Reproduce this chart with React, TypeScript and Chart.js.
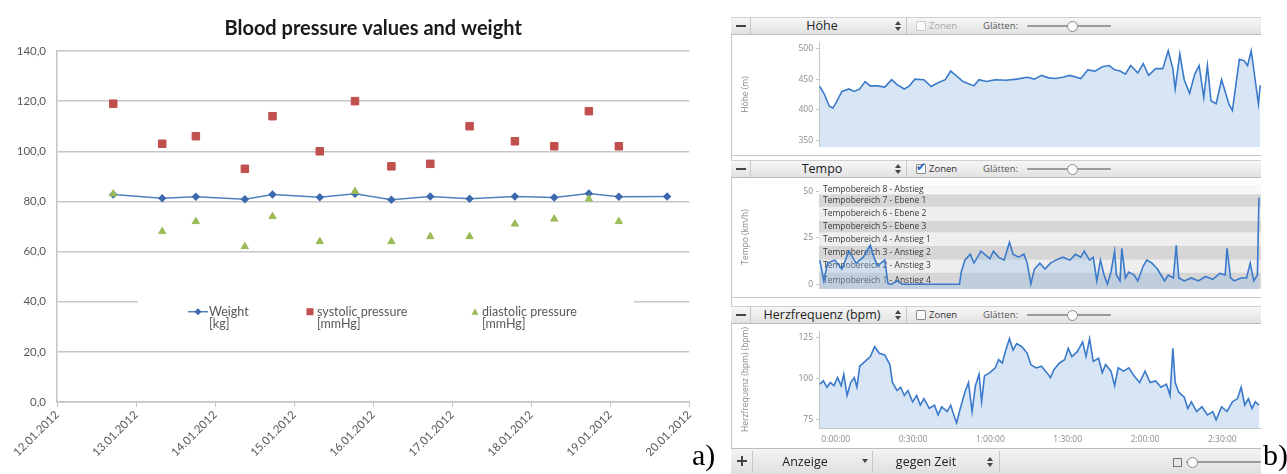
import React, { useEffect, useRef } from 'react';
import { Chart, registerables } from 'chart.js';

Chart.register(...registerables);

// ---------------- Chart a) data ----------------
const xTickLabels = ['12.01.2012', '13.01.2012', '14.01.2012', '15.01.2012', '16.01.2012', '17.01.2012', '18.01.2012', '19.01.2012', '20.01.2012'];
const leftYTicks = [0, 20, 40, 60, 80, 100, 120, 140];
const measureTimes = [
  '12.01.2012 17:05', '13.01.2012 07:57', '13.01.2012 18:10', '14.01.2012 09:03', '14.01.2012 17:27',
  '15.01.2012 07:48', '15.01.2012 18:30', '16.01.2012 05:33', '16.01.2012 17:22', '17.01.2012 05:18',
  '17.01.2012 19:03', '18.01.2012 07:00', '18.01.2012 17:31', '19.01.2012 02:37', '19.01.2012 17:17',
];
const weightKg = [82.8, 81.3, 81.9, 80.9, 82.8, 81.7, 83.1, 80.7, 82.0, 81.1, 82.0, 81.6, 83.2, 81.9, 82.0];
const systolicMmHg = [119, 103, 106, 93, 114, 100, 120, 94, 95, 110, 104, 102, 116, 102, null];
const diastolicMmHg = [83, 68, 72, 62, 74, 64, 84, 64, 66, 66, 71, 73, 81, 72, null];
const legendLines = [
  ['Weight', '[kg]'],
  ['systolic pressure', '[mmHg]'],
  ['diastolic pressure', '[mmHg]'],
];

// ---------------- Chart b) data (time in minutes) ----------------
const timeTicks = [0, 30, 60, 90, 120, 150];
const timeTickLabels = ['0:00:00', '0:30:00', '1:00:00', '1:30:00', '2:00:00', '2:30:00'];

const hoeheTime = [-6.2, -4.6, -2.5, -1.1, 0.3, 2.4, 5.1, 7.2, 9.3, 11.4, 13.4, 16.2, 19.0, 21.7, 23.8, 26.6, 28.6, 30.7, 34.2, 37.0, 39.7, 42.5, 44.6, 46.6, 49.4, 53.6, 55.6, 58.4, 61.9, 66.0, 70.2, 74.3, 77.1, 79.8, 82.6, 85.4, 88.1, 90.9, 95.1, 97.8, 100.6, 103.4, 106.1, 108.2, 110.3, 112.4, 114.4, 117.2, 119.3, 121.4, 124.1, 126.9, 129.0, 130.8, 131.7, 133.5, 135.2, 137.3, 139.3, 141.0, 142.8, 144.2, 145.6, 147.6, 149.7, 151.1, 152.5, 153.9, 155.3, 156.6, 158.4, 159.8, 161.2, 162.6, 164.0, 164.7];
const hoeheValue = [438, 427, 406, 403, 413, 430, 434, 430, 434, 446, 439, 439, 437, 449, 441, 434, 439, 450, 449, 438, 444, 449, 463, 456, 446, 439, 449, 446, 449, 448, 450, 453, 450, 456, 452, 451, 453, 456, 451, 465, 463, 470, 472, 465, 463, 458, 472, 460, 475, 456, 467, 467, 496, 467, 434, 491, 449, 427, 458, 472, 420, 472, 415, 410, 449, 430, 410, 399, 442, 482, 480, 472, 496, 453, 410, 440];
const hoeheTicks = [350, 400, 450, 500];

const tempoTime = [-6.2, -4.6, -3.2, -0.4, 2.4, 5.1, 7.9, 10.7, 13.4, 14.8, 16.2, 19.0, 20.3, 21.7, 23.8, 25.9, 48.0, 48.7, 50.1, 52.2, 53.6, 55.0, 56.3, 57.7, 59.8, 61.2, 63.2, 65.3, 67.4, 68.8, 70.9, 73.0, 74.3, 75.7, 77.1, 79.2, 81.2, 83.3, 85.4, 88.1, 90.9, 93.0, 95.1, 96.4, 98.5, 99.9, 101.3, 102.7, 104.1, 105.4, 106.8, 108.2, 108.9, 110.3, 111.0, 112.4, 113.7, 115.8, 117.2, 119.3, 120.7, 122.7, 124.8, 126.2, 127.6, 129.0, 131.0, 132.1, 133.1, 135.2, 138.0, 140.7, 143.5, 146.3, 149.0, 151.1, 151.8, 153.2, 154.6, 157.3, 159.4, 160.8, 162.2, 163.6, 164.2];
const tempoValue = [13.0, 1.8, 11.4, 13.0, 8.2, 17.8, 11.4, 14.6, 21.0, 14.6, 9.8, 13.0, 0.2, 0, 1.8, 0, 0, 6.6, 13.0, 16.2, 11.4, 14.6, 17.8, 16.2, 13.8, 17.8, 14.6, 13.0, 22.6, 16.2, 14.6, 16.2, 11.4, 0.2, 8.2, 11.4, 8.2, 11.4, 13.0, 14.6, 13.0, 16.2, 14.6, 17.8, 13.0, 14.6, 1.8, 13.0, 5.0, 0, 6.6, 17.8, 5.0, 1.8, 19.4, 3.4, 6.6, 5.0, 1.8, 9.8, 13.0, 11.4, 8.2, 5.0, 1.8, 5.0, 3.4, 21.0, 3.4, 1.8, 3.4, 1.8, 4.2, 2.6, 5.8, 5.0, 19.4, 3.4, 1.8, 3.4, 3.4, 11.4, 1.8, 5.0, 46.6];
const tempoTicks = [0, 25, 50];
const tempoZoneBounds = [-2.5, 6.4, 13.2, 20.6, 27.9, 34.3, 41.7, 48.5, 53.4];
const tempoZoneLabels = [
  'Tempobereich 1 - Anstieg 4', 'Tempobereich 2 - Anstieg 3', 'Tempobereich 3 - Anstieg 2', 'Tempobereich 4 - Anstieg 1',
  'Tempobereich 5 - Ebene 3', 'Tempobereich 6 - Ebene 2', 'Tempobereich 7 - Ebene 1', 'Tempobereich 8 - Abstieg',
];

const hrTime = [-6.2, -4.8, -3.4, -2.1, -0.7, 0.7, 2.1, 3.1, 4.4, 5.8, 7.2, 8.2, 9.3, 11.4, 13.4, 15.1, 16.9, 19.0, 21.0, 22.0, 23.8, 25.2, 26.6, 28.0, 29.8, 31.4, 32.8, 34.2, 36.3, 38.3, 39.7, 41.1, 43.2, 44.6, 46.0, 46.9, 48.0, 50.1, 51.5, 52.9, 54.2, 55.6, 56.6, 57.7, 59.8, 61.9, 63.2, 64.6, 66.0, 67.4, 68.8, 70.2, 72.2, 74.3, 75.7, 77.8, 79.8, 81.9, 83.3, 84.7, 86.8, 88.8, 90.2, 91.6, 93.7, 95.8, 97.1, 98.5, 99.9, 102.0, 103.4, 104.7, 106.8, 108.2, 109.6, 111.7, 113.7, 115.8, 117.9, 120.0, 122.0, 124.1, 126.2, 128.3, 129.7, 130.8, 131.7, 133.1, 135.2, 136.6, 138.0, 140.0, 142.1, 144.2, 146.3, 147.6, 149.7, 151.8, 153.9, 155.9, 157.3, 158.7, 160.1, 161.5, 162.8, 164.2];
const hrValue = [96.7, 98.7, 94.8, 97.7, 95.8, 100.7, 95.8, 102.7, 89.8, 97.7, 100.7, 94.8, 107.6, 110.6, 113.5, 119.5, 115.5, 114.5, 108.6, 97.7, 92.8, 94.8, 89.8, 92.8, 85.9, 89.8, 83.9, 87.9, 81.9, 83.9, 78.0, 82.9, 80.0, 83.9, 77.0, 73.0, 80.0, 91.8, 97.7, 80.0, 95.8, 102.7, 85.9, 101.7, 103.7, 106.6, 111.6, 109.6, 117.5, 124.4, 117.5, 121.4, 119.5, 115.5, 108.6, 106.6, 107.6, 103.7, 100.7, 105.6, 109.6, 111.6, 118.5, 113.5, 116.5, 122.4, 113.5, 124.4, 110.6, 112.5, 103.7, 108.6, 104.6, 95.8, 106.6, 104.6, 106.6, 101.7, 97.7, 104.6, 97.7, 98.7, 94.8, 96.7, 89.8, 118.5, 97.7, 91.8, 88.8, 81.9, 85.9, 80.0, 82.9, 78.0, 80.0, 75.0, 82.9, 80.0, 85.9, 87.9, 94.8, 83.9, 87.9, 81.9, 85.9, 83.9];
const hrTicks = [75, 100, 125];

// ---------------- helpers ----------------
function parseStamp(s: string): number {
  const [d, t] = s.split(' ');
  const [dd, mm, yy] = d.split('.').map(Number);
  const [h, mi] = (t || '0:00').split(':').map(Number);
  return Date.UTC(yy, mm - 1, dd, h, mi);
}
const baseMs = parseStamp(xTickLabels[0]);
const toDay = (s: string) => (parseStamp(s) - baseMs) / 86400000;

const COL_W = '#4F81BD';
const COL_W_MARK = '#3D69AE';
const COL_S = '#C0504D';
const COL_D = '#9BBB59';
const UI_FONT = "'Open Sans', 'DejaVu Sans', sans-serif";

function drawMarker(ctx: CanvasRenderingContext2D, kind: string, x: number, y: number, color: string) {
  ctx.save();
  ctx.fillStyle = color;
  ctx.strokeStyle = color;
  ctx.beginPath();
  if (kind === 'line') {
    ctx.lineWidth = 1.5;
    ctx.moveTo(x - 10, y);
    ctx.lineTo(x + 10, y);
    ctx.stroke();
    ctx.beginPath();
    ctx.fillStyle = COL_W_MARK;
    ctx.moveTo(x, y - 3.5);
    ctx.lineTo(x + 3.5, y);
    ctx.lineTo(x, y + 3.5);
    ctx.lineTo(x - 3.5, y);
    ctx.closePath();
    ctx.fill();
  } else if (kind === 'rect') {
    ctx.fillRect(x - 3.5, y - 3.5, 7, 7);
  } else {
    ctx.moveTo(x, y - 3.5);
    ctx.lineTo(x + 3.5, y + 3);
    ctx.lineTo(x - 3.5, y + 3);
    ctx.closePath();
    ctx.fill();
  }
  ctx.restore();
}

const innerLegend = {
  id: 'innerLegend',
  afterDatasetsDraw(chart: any) {
    const { ctx, chartArea, scales } = chart;
    const y40 = scales.y.getPixelForValue(40);
    const l = chartArea.left;
    ctx.save();
    ctx.fillStyle = '#ffffff';
    ctx.fillRect(l + 81, y40 - 8, 496, 40);
    const kinds = ['line', 'rect', 'tri'];
    const colors = [COL_W, COL_S, COL_D];
    const markX = [l + 141, l + 253, l + 418];
    const textX = [l + 152, l + 260, l + 425];
    ctx.font = "12.5px Lato, 'Open Sans', sans-serif";
    ctx.textBaseline = 'middle';
    ctx.textAlign = 'left';
    for (let i = 0; i < 3; i++) {
      drawMarker(ctx, kinds[i], markX[i], y40 + 10, colors[i]);
      ctx.fillStyle = '#595959';
      ctx.fillText(legendLines[i][0], textX[i], y40 + 10);
      ctx.fillText(legendLines[i][1], textX[i], y40 + 22);
    }
    ctx.restore();
  },
};

function LeftChart() {
  const ref = useRef<HTMLCanvasElement | null>(null);
  useEffect(() => {
    if (!ref.current) return;
    const xs = measureTimes.map(toDay);
    const tickFont = { family: "Lato, 'Open Sans', sans-serif", size: 11.5 };
    const chart = new Chart(ref.current, {
      type: 'scatter',
      data: {
        datasets: [
          {
            label: 'Weight [kg]',
            data: xs.map((x, i) => ({ x, y: weightKg[i] })),
            showLine: true,
            borderColor: COL_W,
            borderWidth: 1.5,
            pointStyle: 'rectRot',
            pointRadius: 3.2,
            pointBackgroundColor: COL_W_MARK,
            pointBorderColor: COL_W_MARK,
            order: 3,
          },
          {
            label: 'systolic pressure [mmHg]',
            data: xs.map((x, i) => ({ x, y: systolicMmHg[i] })),
            showLine: false,
            pointStyle: 'rect',
            pointRadius: 5.3,
            pointBackgroundColor: COL_S,
            pointBorderColor: COL_S,
            order: 2,
          },
          {
            label: 'diastolic pressure [mmHg]',
            data: xs.map((x, i) => ({ x, y: diastolicMmHg[i] })),
            showLine: false,
            pointStyle: 'triangle',
            pointRadius: 4.2,
            pointBackgroundColor: COL_D,
            pointBorderColor: COL_D,
            order: 1,
          },
        ] as any,
      },
      options: {
        animation: false,
        responsive: false,
        layout: { padding: { left: 7, right: 10, top: 0, bottom: 0 } },
        plugins: {
          legend: { display: false },
          tooltip: { enabled: false },
          title: {
            display: true,
            text: 'Blood pressure values and weight',
            fullSize: false,
            color: '#1a1a1a',
            font: { family: "Lato, 'Open Sans', sans-serif", size: 20, weight: 'bold' },
            padding: { top: 17, bottom: 10 },
          },
        },
        scales: {
          x: {
            type: 'linear',
            min: 0,
            max: xTickLabels.length - 1,
            afterBuildTicks: (s: any) => { s.ticks = xTickLabels.map((_, i) => ({ value: i })); },
            afterFit: (s: any) => { s.height = 72; },
            ticks: {
              autoSkip: false,
              minRotation: 45,
              maxRotation: 45,
              padding: 1,
              color: '#595959',
              font: tickFont,
              callback: (_v: any, i: number) => xTickLabels[i],
            },
            grid: { drawOnChartArea: false, drawTicks: true, tickLength: 5, color: '#c4c4c4' },
            border: { color: '#c4c4c4', width: 1.5 },
          },
          y: {
            min: 0,
            max: 140,
            afterBuildTicks: (s: any) => { s.ticks = leftYTicks.map((v) => ({ value: v })); },
            afterFit: (s: any) => { s.width = 50; },
            ticks: {
              padding: 11,
              color: '#595959',
              font: tickFont,
              callback: (v: any) => Number(v).toFixed(1).replace('.', ','),
            },
            grid: { color: '#c6c6c6', lineWidth: 1.5, drawTicks: false },
            border: { color: '#c4c4c4', width: 1.5 },
          },
        },
      } as any,
      plugins: [innerLegend],
    });
    return () => chart.destroy();
  }, []);
  return (
    <canvas ref={ref} width={700} height={474} style={{ position: 'absolute', left: 0, top: 0, width: 700, height: 474 }} />
  );
}

const zonePlugin = {
  id: 'tempoZones',
  beforeDatasetsDraw(chart: any) {
    const { ctx, chartArea, scales } = chart;
    const y = scales.y;
    ctx.save();
    for (let i = 0; i < tempoZoneLabels.length; i++) {
      const yTop = y.getPixelForValue(tempoZoneBounds[i + 1]);
      const yBot = y.getPixelForValue(tempoZoneBounds[i]);
      ctx.fillStyle = i % 2 === 0 ? '#d6d6d6' : (i === tempoZoneLabels.length - 1 ? '#f7f7f7' : '#eeeeee');
      ctx.fillRect(chartArea.left, yTop, chartArea.right - chartArea.left, yBot - yTop);
      ctx.fillStyle = '#3a3a3a';
      ctx.font = "8.5px 'Open Sans', sans-serif";
      ctx.textBaseline = 'middle';
      ctx.textAlign = 'left';
      ctx.fillText(tempoZoneLabels[i], chartArea.left + 4, (yTop + yBot) / 2);
    }
    ctx.restore();
  },
};

type PanelProps = {
  top: number;
  height: number;
  times: number[];
  values: number[];
  yMin: number;
  yMax: number;
  yTicks: number[];
  yTitle: string;
  showX: boolean;
  padTop: number;
  zones?: boolean;
};

function PanelChart(p: PanelProps) {
  const ref = useRef<HTMLCanvasElement | null>(null);
  useEffect(() => {
    if (!ref.current) return;
    const small = { family: UI_FONT, size: 8.5 };
    const chart = new Chart(ref.current, {
      type: 'line',
      data: {
        datasets: [
          {
            data: p.times.map((t, i) => ({ x: t, y: p.values[i] })),
            borderColor: '#3b7acb',
            borderWidth: 1.6,
            backgroundColor: p.zones ? 'rgba(150, 190, 235, 0.35)' : 'rgba(190, 212, 238, 0.6)',
            fill: 'start',
            pointRadius: 0,
            tension: 0,
          },
        ],
      },
      options: {
        animation: false,
        responsive: false,
        layout: { padding: { top: p.padTop, right: 0, bottom: 0, left: 0 } },
        plugins: { legend: { display: false }, tooltip: { enabled: false } },
        scales: {
          x: {
            type: 'linear',
            min: -6.5,
            max: 165,
            display: p.showX,
            afterBuildTicks: (s: any) => { s.ticks = timeTicks.map((v) => ({ value: v })); },
            afterFit: (s: any) => { s.height = p.showX ? 19 : 0; },
            ticks: {
              padding: 6,
              color: '#8a8a8a',
              font: small,
              maxRotation: 0,
              callback: (_v: any, i: number) => timeTickLabels[i],
            },
            grid: { drawOnChartArea: false, drawTicks: false },
            border: { color: '#c8c8c8' },
          },
          y: {
            min: p.yMin,
            max: p.yMax,
            afterBuildTicks: (s: any) => { s.ticks = p.yTicks.map((v) => ({ value: v })); },
            afterFit: (s: any) => { s.width = 88; },
            ticks: { padding: 3, color: '#8a8a8a', font: small },
            grid: { drawOnChartArea: false, drawTicks: true, tickLength: 3, color: '#c8c8c8' },
            border: { color: '#c8c8c8' },
            title: {
              display: true,
              text: p.yTitle,
              color: '#8a8a8a',
              font: { family: UI_FONT, size: 8.5 },
              padding: { top: 9, bottom: 0 },
            },
          },
        },
      } as any,
      plugins: p.zones ? [zonePlugin] : [],
    });
    return () => chart.destroy();
  }, []);
  return (
    <canvas
      ref={ref}
      width={530}
      height={p.height}
      style={{ position: 'absolute', left: 731, top: p.top, width: 530, height: p.height }}
    />
  );
}

function Stepper({ left, top }: { left: number; top: number }) {
  return (
    <div style={{ position: 'absolute', left, top, width: 6, height: 11 }}>
      <div style={{ position: 'absolute', left: 0, top: 0, width: 0, height: 0, borderLeft: '3px solid transparent', borderRight: '3px solid transparent', borderBottom: '4px solid #444' }} />
      <div style={{ position: 'absolute', left: 0, top: 6, width: 0, height: 0, borderLeft: '3px solid transparent', borderRight: '3px solid transparent', borderTop: '4px solid #444' }} />
    </div>
  );
}

function Slider({ left, top, width, knob }: { left: number; top: number; width: number; knob: number }) {
  return (
    <>
      <div style={{ position: 'absolute', left, top, width, height: 2, background: '#9a9a9a', borderRadius: 1 }} />
      <div style={{ position: 'absolute', left: left + knob - 5, top: top - 4, width: 9, height: 9, borderRadius: '50%', background: '#fdfdfd', border: '1px solid #8a8a8a' }} />
    </>
  );
}

function Header({ top, title, zonesOn, zonesEnabled }: { top: number; title: string; zonesOn: boolean; zonesEnabled: boolean }) {
  return (
    <div style={{ position: 'absolute', left: 731, top, width: 530, height: 16, background: 'linear-gradient(#f6f6f6, #e2e2e2)', borderTop: '1px solid #d0d0d0', borderBottom: '1px solid #bcbcbc', boxSizing: 'content-box', fontFamily: UI_FONT }}>
      <div style={{ position: 'absolute', left: 5, top: 7, width: 10, height: 2, background: '#444' }} />
      <div style={{ position: 'absolute', left: 19, top: 0, width: 1, height: 16, background: '#c6c6c6' }} />
      <div style={{ position: 'absolute', left: 20, top: 0, width: 142, height: 16, lineHeight: '16px', textAlign: 'center', fontSize: 12.5, color: '#222' }}>{title}</div>
      <Stepper left={164} top={3} />
      <div style={{ position: 'absolute', left: 175, top: 0, width: 1, height: 16, background: '#c6c6c6' }} />
      <div style={{ position: 'absolute', left: 185, top: 3, width: 8, height: 8, border: '1px solid ' + (zonesEnabled ? '#8a8a8a' : '#c9c9c9'), background: '#fafafa', borderRadius: 1 }} />
      {zonesOn ? (
        <div style={{ position: 'absolute', left: 185, top: -3, fontSize: 12, color: '#2d62c2', fontWeight: 'bold' }}>{'\u2714'}</div>
      ) : null}
      <div style={{ position: 'absolute', left: 198, top: 0, lineHeight: '16px', fontSize: 9.5, color: zonesEnabled ? '#333' : '#aaaaaa' }}>Zonen</div>
      <div style={{ position: 'absolute', left: 252, top: 0, lineHeight: '16px', fontSize: 9.5, color: '#555' }}>Glätten:</div>
      <Slider left={296} top={7} width={84} knob={45} />
    </div>
  );
}

function Toolbar() {
  return (
    <div style={{ position: 'absolute', left: 731, top: 448, width: 530, height: 26, background: 'linear-gradient(#f4f4f4, #dedede)', borderTop: '1px solid #bdbdbd', fontFamily: UI_FONT }}>
      <div style={{ position: 'absolute', left: 6, top: 11, width: 10, height: 2, background: '#444' }} />
      <div style={{ position: 'absolute', left: 10, top: 7, width: 2, height: 10, background: '#444' }} />
      <div style={{ position: 'absolute', left: 21, top: 2, width: 1, height: 22, background: '#c6c6c6' }} />
      <div style={{ position: 'absolute', left: 22, top: 0, width: 104, height: 26, lineHeight: '26px', textAlign: 'center', fontSize: 12.5, color: '#222' }}>Anzeige</div>
      <div style={{ position: 'absolute', left: 131, top: 10, width: 0, height: 0, borderLeft: '3px solid transparent', borderRight: '3px solid transparent', borderTop: '4px solid #444' }} />
      <div style={{ position: 'absolute', left: 141, top: 2, width: 1, height: 22, background: '#c6c6c6' }} />
      <div style={{ position: 'absolute', left: 142, top: 0, width: 106, height: 26, lineHeight: '26px', textAlign: 'center', fontSize: 12.5, color: '#222' }}>gegen Zeit</div>
      <Stepper left={256} top={8} />
      <div style={{ position: 'absolute', left: 268, top: 2, width: 1, height: 22, background: '#c6c6c6' }} />
      <div style={{ position: 'absolute', left: 442, top: 9, width: 7, height: 7, border: '1px solid #777', background: '#e8e8e8' }} />
      <Slider left={455} top={12} width={75} knob={6} />
    </div>
  );
}

export default function App() {
  return (
    <div style={{ position: 'fixed', left: 0, top: 0, width: 1287, height: 474, background: '#ffffff', overflow: 'hidden' }}>
      <LeftChart />
      <div style={{ position: 'absolute', left: 692, top: 437, fontFamily: "'Liberation Serif', 'DejaVu Serif', serif", fontSize: 30, lineHeight: '36px', color: '#000' }}>a)</div>

      <div style={{ position: 'absolute', left: 731, top: 17, width: 1, height: 457, background: '#c8c8c8' }} />

      <Header top={17} title="Höhe" zonesOn={false} zonesEnabled={false} />
      <div style={{ position: 'absolute', left: 731, top: 34, width: 530, height: 121, borderBottom: '1px solid #c6c6c6' }} />
      <PanelChart top={34} height={121} times={hoeheTime} values={hoeheValue} yMin={340} yMax={510} yTicks={hoeheTicks} yTitle="Höhe (m)" showX={false} padTop={3} />

      <Header top={160} title="Tempo" zonesOn={true} zonesEnabled={true} />
      <PanelChart top={177} height={120} times={tempoTime} values={tempoValue} yMin={-2.5} yMax={53.4} yTicks={tempoTicks} yTitle="Tempo (km/h)" showX={false} padTop={6} zones={true} />
      <div style={{ position: 'absolute', left: 731, top: 297, width: 530, height: 1, background: '#c6c6c6' }} />

      <Header top={306} title="Herzfrequenz (bpm)" zonesOn={false} zonesEnabled={true} />
      <PanelChart top={323} height={124} times={hrTime} values={hrValue} yMin={70} yMax={129} yTicks={hrTicks} yTitle="Herzfrequenz (bpm) (bpm)" showX={true} padTop={6} />

      <Toolbar />
      <div style={{ position: 'absolute', left: 1263, top: 437, fontFamily: "'Liberation Serif', 'DejaVu Serif', serif", fontSize: 30, lineHeight: '36px', color: '#000' }}>b)</div>
    </div>
  );
}
